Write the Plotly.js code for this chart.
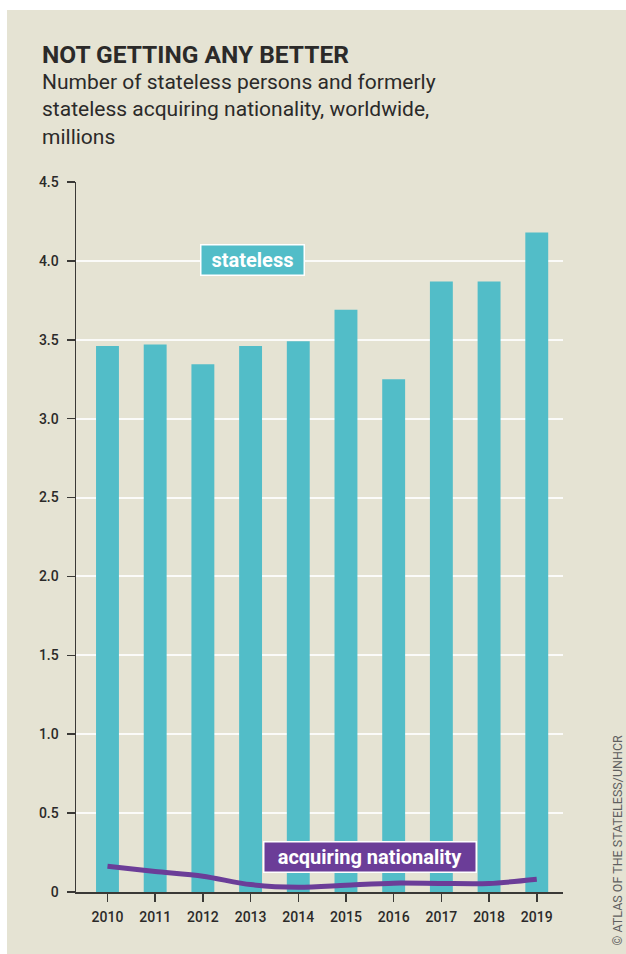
<!DOCTYPE html>
<html>
<head>
<meta charset="utf-8">
<script src="https://cdn.plot.ly/plotly-3.0.1.min.js"></script>
<style>
  html, body { margin: 0; padding: 0; background: #ffffff; width: 626px; height: 954px; overflow: hidden; }
  #chart { position: absolute; left: 7px; top: 10px; width: 619px; height: 944px; }
</style>
</head>
<body>
<div id="chart"></div>
<script>
// ---- data ----
const years = [2010, 2011, 2012, 2013, 2014, 2015, 2016, 2017, 2018, 2019];
const stateless = [3.46, 3.47, 3.345, 3.46, 3.49, 3.69, 3.25, 3.87, 3.87, 4.18];
const acquiringNationality = [0.163, 0.13, 0.10, 0.047, 0.03, 0.043, 0.056, 0.054, 0.054, 0.081];
const yTicks = [0, 0.5, 1.0, 1.5, 2.0, 2.5, 3.0, 3.5, 4.0, 4.5];
const yTickLabels = ['0', '0.5', '1.0', '1.5', '2.0', '2.5', '3.0', '3.5', '4.0', '4.5'];
const xTickLabels = ['2010', '2011', '2012', '2013', '2014', '2015', '2016', '2017', '2018', '2019'];

const TEAL = '#52bdc8';
const PURPLE = '#6b3d98';
const BG = '#e5e3d3';
const INK = '#2b2a29';
const FONT = 'Roboto, sans-serif';

const traces = [
  {
    type: 'bar', x: years, y: stateless, name: 'stateless',
    marker: { color: TEAL }, width: 0.48, hoverinfo: 'x+y'
  },
  {
    type: 'scatter', mode: 'lines', x: years, y: acquiringNationality, name: 'acquiring nationality',
    line: { color: PURPLE, width: 5, shape: 'spline', smoothing: 0.8 }
  }
];

const layout = {
  width: 619, height: 944,
  paper_bgcolor: BG, plot_bgcolor: BG,
  margin: { l: 69, r: 63.3, t: 171.5, b: 61.5 },
  showlegend: false,
  xaxis: {
    range: [2009.34, 2019.55],
    tickvals: years, ticktext: xTickLabels,
    showgrid: false, zeroline: false,
    showline: true, linecolor: '#3a3936', linewidth: 1.5,
    ticks: 'outside', ticklen: 8, tickwidth: 1.5, tickcolor: '#3a3936',
    ticklabelstandoff: 4,
    tickfont: { family: FONT, size: 14, color: INK, weight: 500 },
    fixedrange: true
  },
  yaxis: {
    range: [0, 4.5],
    tickvals: yTicks, ticktext: yTickLabels,
    showgrid: true, gridcolor: 'rgba(255,255,255,0.85)', gridwidth: 2,
    zeroline: false,
    showline: true, linecolor: '#3a3936', linewidth: 1.5,
    ticks: 'outside', ticklen: 8, tickwidth: 1.5, tickcolor: '#3a3936',
    ticklabelstandoff: 5,
    tickfont: { family: FONT, size: 14, color: INK, weight: 500 },
    fixedrange: true
  },
  annotations: [
    {
      xref: 'paper', yref: 'paper', x: -0.074, y: 1.1793, xanchor: 'left', yanchor: 'middle',
      text: '<b>NOT GETTING ANY BETTER</b>', showarrow: false,
      font: { family: FONT, size: 24.5, color: INK }
    },
    {
      xref: 'paper', yref: 'paper', x: -0.074, y: 1.102, xanchor: 'left', yanchor: 'middle', align: 'left',
      text: 'Number of stateless persons and formerly<br>stateless acquiring nationality, worldwide,<br>millions',
      showarrow: false,
      font: { family: FONT, size: 21, color: INK }
    },
    {
      xref: 'paper', yref: 'paper', x: 0.3627, y: 0.890, xanchor: 'center', yanchor: 'middle',
      text: '<b>stateless</b>', showarrow: false,
      bgcolor: TEAL, bordercolor: '#ffffff', borderwidth: 1.5, borderpad: 1,
      width: 100, height: 27,
      font: { family: FONT, size: 20, color: '#ffffff' }
    },
    {
      xref: 'paper', yref: 'paper', x: 0.604, y: 0.0492, xanchor: 'center', yanchor: 'middle',
      text: '<b>acquiring nationality</b>', showarrow: false,
      bgcolor: PURPLE, bordercolor: '#ffffff', borderwidth: 1.5, borderpad: 1,
      width: 209, height: 27,
      font: { family: FONT, size: 20, color: '#ffffff' }
    },
    {
      xref: 'paper', yref: 'paper', x: 1.1116, y: 0.0731, xanchor: 'center', yanchor: 'middle',
      text: '© ATLAS OF THE STATELESS/UNHCR', textangle: -90, showarrow: false,
      font: { family: FONT, size: 12.5, color: '#5f5f5f' }
    }
  ]
};

Plotly.newPlot('chart', traces, layout, { displayModeBar: false, staticPlot: true });
</script>
</body>
</html>
